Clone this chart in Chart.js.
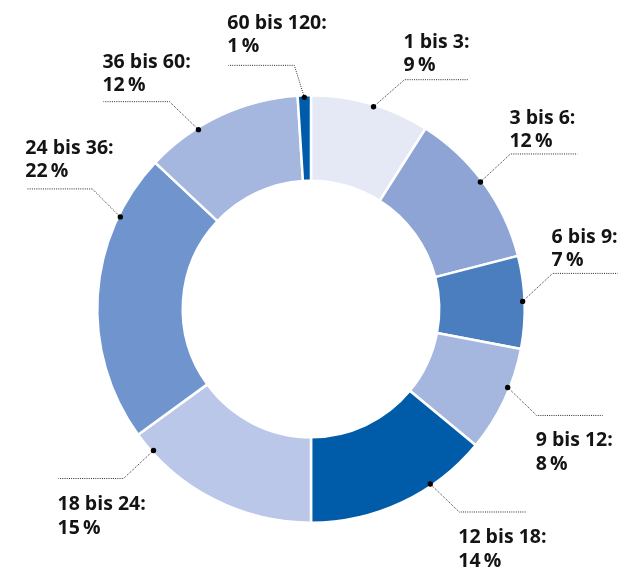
<!DOCTYPE html>
<html>
<head>
<meta charset="utf-8">
<script src="https://cdn.jsdelivr.net/npm/chart.js@4"></script>
<style>
html,body{margin:0;padding:0;background:#fff;}
#wrap{width:633px;height:570px;position:relative;}
</style>
</head>
<body>
<div id="wrap"><canvas id="c" width="633" height="570"></canvas></div>
<script>
const categories = ["1 bis 3", "3 bis 6", "6 bis 9", "9 bis 12", "12 bis 18", "18 bis 24", "24 bis 36", "36 bis 60", "60 bis 120"];
const shares = [9, 12, 7, 8, 14, 15, 22, 12, 1];
const colors = ["#e5e9f6", "#8da4d5", "#4a7ebf", "#a5b6df", "#005ca8", "#bbc7e8", "#7095ce", "#a5b6df", "#005ca8"];

// leader-line layout per label: anchor fraction along the arc, elbow offset, horizontal length, text side, baseline gap
const labelLayout = [
  {pos: 0.53, dx: 31, dy: -27, len: 64, side: "above", gap: 9},
  {pos: 0.48, dx: 30, dy: -28, len: 67, side: "above", gap: 7},
  {pos: 0.49, dx: 30, dy: -28, len: 65, side: "above", gap: 7},
  {pos: 0.38, dx: 29, dy: 28, len: 66, side: "below", gap: 31},
  {pos: 0.32, dx: 29, dy: 28, len: 67, side: "below", gap: 31},
  {pos: 0.89, dx: -30, dy: 28, len: -65, side: "below", gap: 31},
  {pos: 0.78, dx: -28, dy: -28, len: -66, side: "above", gap: 12},
  {pos: 0.34, dx: -29, dy: -28, len: -66, side: "above", gap: 11},
  {pos: 0.50, dx: -10, dy: -32, len: -66, side: "above", gap: 13}
];

const labelPlugin = {
  id: "leaderLabels",
  afterDatasetsDraw(chart) {
    const ctx = chart.ctx;
    const meta = chart.getDatasetMeta(0);
    ctx.save();
    meta.data.forEach((arc, i) => {
      const p = arc.getProps(["x", "y", "startAngle", "endAngle", "outerRadius"], true);
      const L = labelLayout[i];
      const ang = p.startAngle + (p.endAngle - p.startAngle) * L.pos;
      const r = p.outerRadius - 2;
      const dx = p.x + Math.cos(ang) * r;
      const dy = p.y + Math.sin(ang) * r;
      const ex = dx + L.dx, ey = dy + L.dy;
      const hx = ex + L.len;
      ctx.strokeStyle = "#2a2a2a";
      ctx.lineWidth = 1;
      ctx.setLineDash([1, 1.2]);
      ctx.beginPath();
      ctx.moveTo(dx, dy);
      ctx.lineTo(ex, ey);
      ctx.lineTo(hx, ey);
      ctx.stroke();
      ctx.setLineDash([]);
      ctx.fillStyle = "#000";
      ctx.beginPath();
      ctx.arc(dx, dy, 2.7, 0, Math.PI * 2);
      ctx.fill();
      const tx = Math.min(ex, hx) - 1;
      ctx.fillStyle = "#141414";
      ctx.font = "bold 19.5px 'Open Sans'";
      ctx.textAlign = "left";
      ctx.textBaseline = "alphabetic";
      const l1 = categories[i] + ":";
      const l2 = shares[i] + "\u2009%";
      if (L.side === "above") {
        ctx.fillText(l1, tx, ey - L.gap - 23);
        ctx.fillText(l2, tx, ey - L.gap);
      } else {
        ctx.fillText(l1, tx, ey + L.gap);
        ctx.fillText(l2, tx, ey + L.gap + 24);
      }
    });
    ctx.restore();
  }
};

new Chart(document.getElementById("c"), {
  type: "doughnut",
  data: {
    labels: categories,
    datasets: [{
      data: shares,
      backgroundColor: colors,
      borderColor: "#ffffff",
      borderWidth: 2.5,
      hoverOffset: 0
    }]
  },
  options: {
    responsive: false,
    animation: false,
    cutout: "60%",
    layout: {padding: {top: 94, bottom: 46, left: 96, right: 107}},
    plugins: {legend: {display: false}, tooltip: {enabled: false}}
  },
  plugins: [labelPlugin]
});
</script>
</body>
</html>
